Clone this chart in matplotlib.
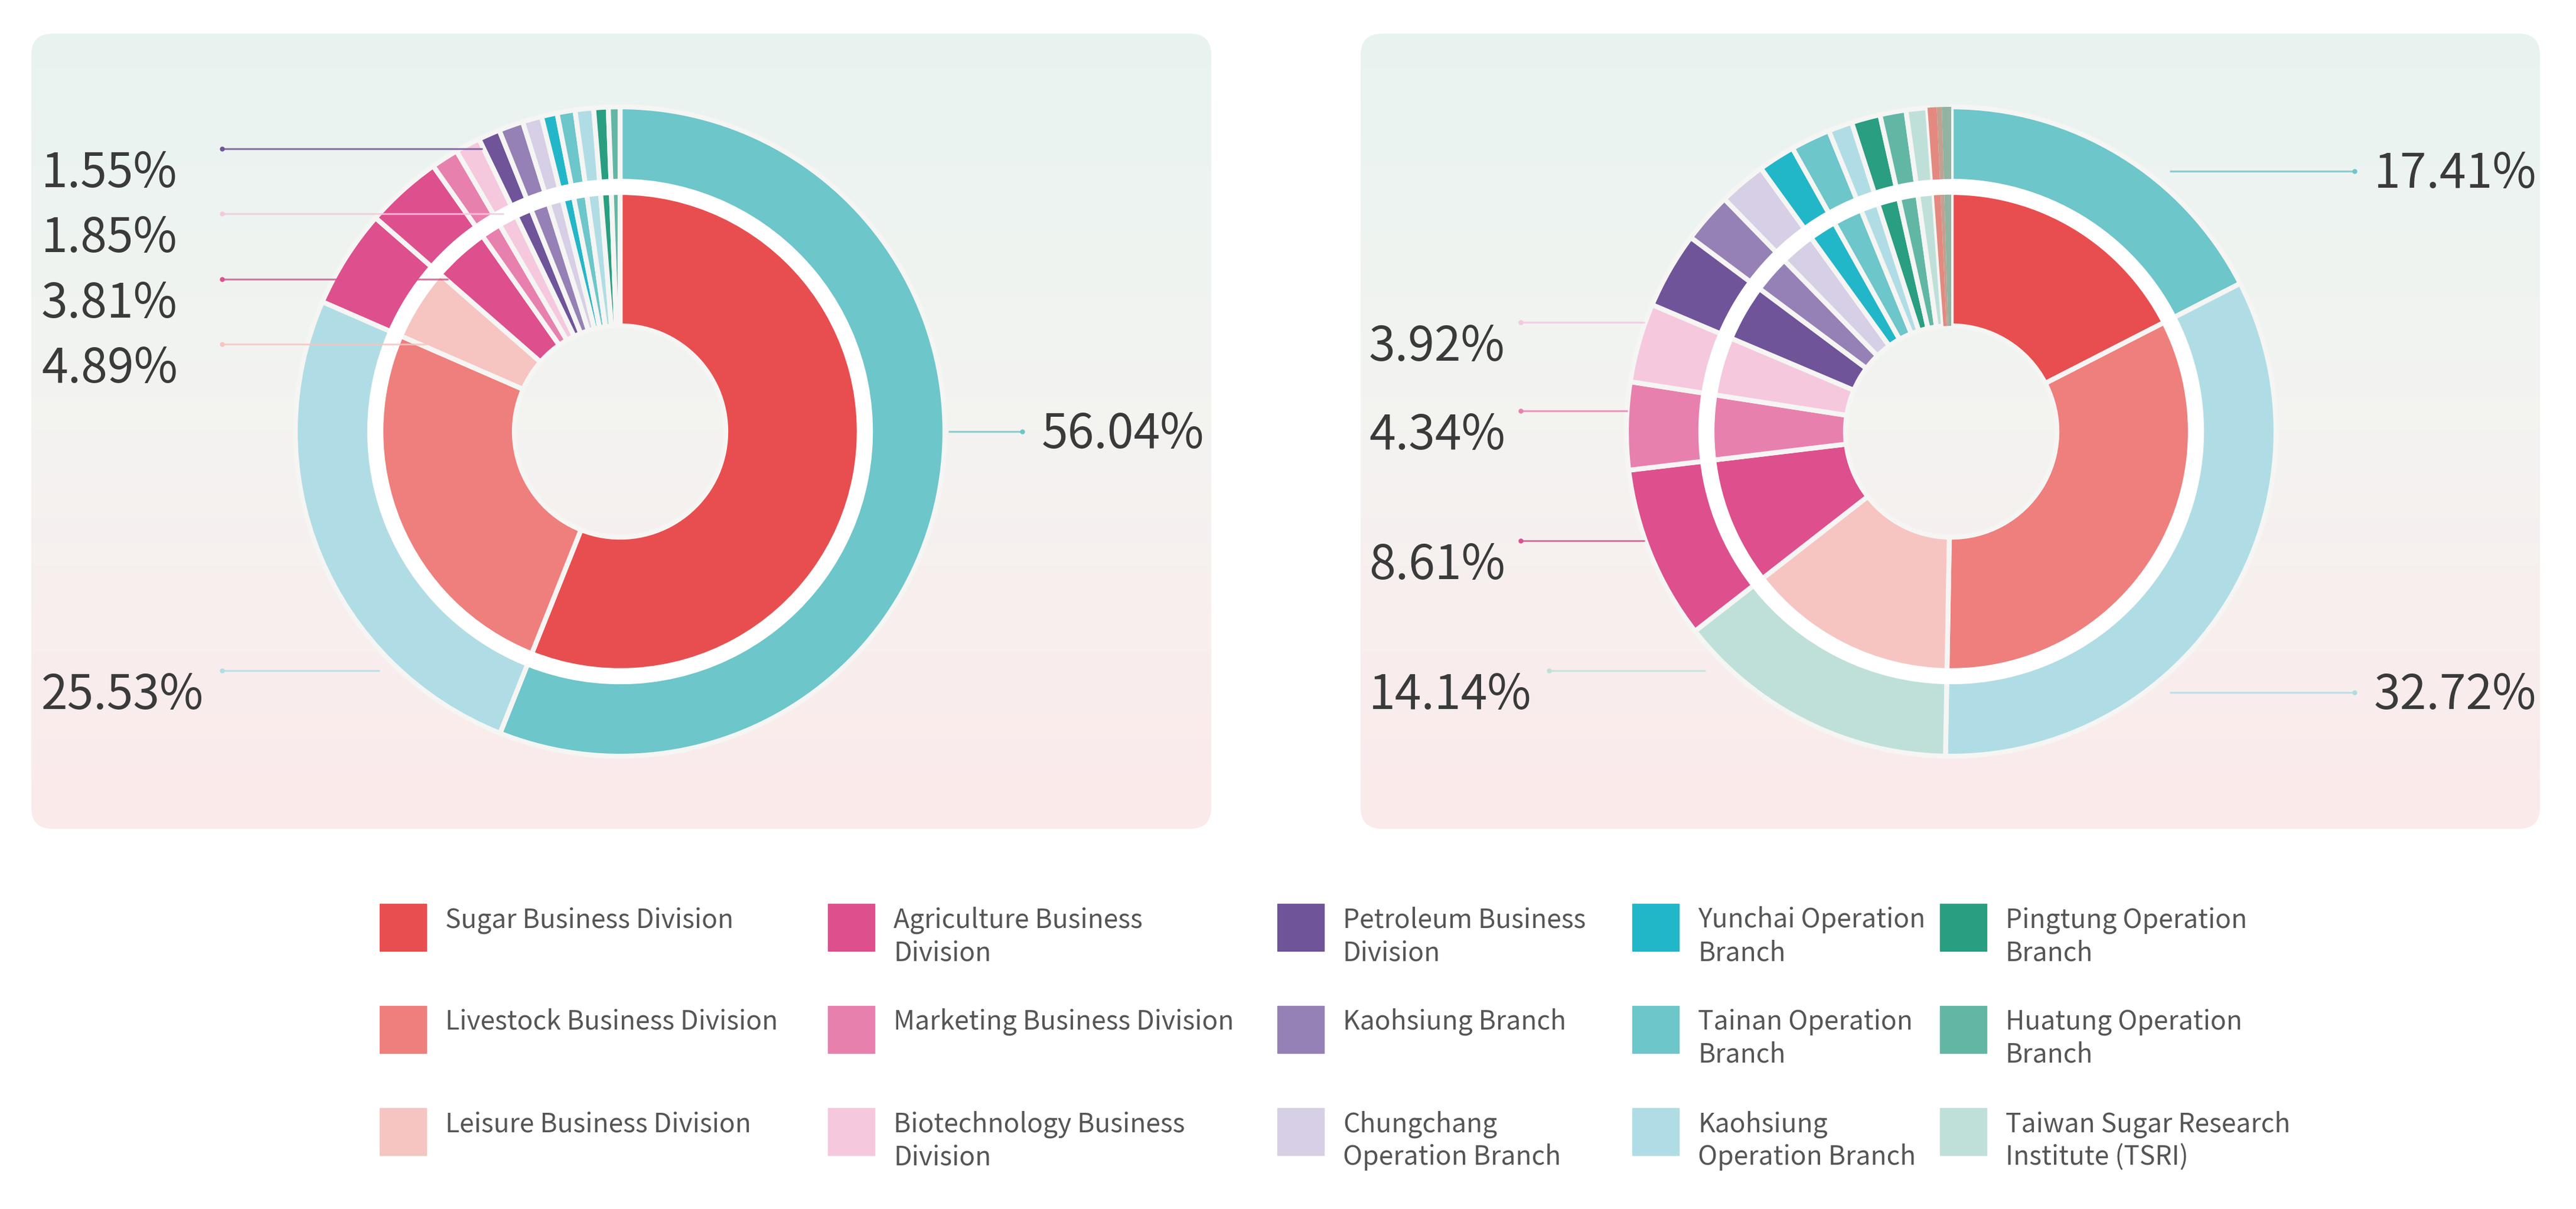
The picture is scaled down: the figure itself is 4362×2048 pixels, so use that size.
import numpy as np
import matplotlib.pyplot as plt
from matplotlib.patches import FancyBboxPatch, Rectangle, Wedge
from matplotlib.colors import LinearSegmentedColormap

plt.rcParams['font.family'] = ['Noto Sans CJK TC', 'DejaVu Sans']

W, H = 4362, 2048

# ---- data ----
categories = [
    "Sugar Business Division", "Livestock Business Division", "Leisure Business Division",
    "Agriculture Business Division", "Marketing Business Division", "Biotechnology Business Division",
    "Petroleum Business Division", "Kaohsiung Branch", "Chungchang Operation Branch",
    "Yunchai Operation Branch", "Tainan Operation Branch", "Kaohsiung Operation Branch",
    "Pingtung Operation Branch", "Huatung Operation Branch", "Taiwan Sugar Research Institute (TSRI)",
]
legend_text = [
    "Sugar Business Division", "Livestock Business Division", "Leisure Business Division",
    "Agriculture Business\nDivision", "Marketing Business Division", "Biotechnology Business\nDivision",
    "Petroleum Business\nDivision", "Kaohsiung Branch", "Chungchang\nOperation Branch",
    "Yunchai Operation\nBranch", "Tainan Operation\nBranch", "Kaohsiung\nOperation Branch",
    "Pingtung Operation\nBranch", "Huatung Operation\nBranch", "Taiwan Sugar Research\nInstitute (TSRI)",
]
cat_colors = [
    "#E84E4F", "#EE7F7D", "#F6C5C1",
    "#DE4F8D", "#E880AE", "#F5C8DE",
    "#6F5499", "#9581B5", "#D6CFE5",
    "#22B7C8", "#6CC6CA", "#B0DDE5",
    "#299E80", "#61B7A4", "#BFE0D9",
]

# share of each category (%), same order as categories
left_values = [56.04, 25.53, 4.89, 3.81, 1.36, 1.25, 1.08, 1.22, 0.96, 0.78, 0.89, 0.92, 0.72, 0.58, 0.0]
right_values = [17.41, 32.72, 14.14, 8.61, 4.34, 3.92, 3.80, 2.50, 2.33, 1.83, 1.97, 1.19, 1.43, 1.29, 1.06]
right_tail_values = [0.45, 0.25, 0.46]
right_tail_colors = ["#E3897F", "#C4A090", "#90B4A1"]

# outer ring colour for each slice (category index)
left_outer_idx = [10, 11, 3, 3, 4, 5, 6, 7, 8, 9, 10, 11, 12, 13, 14]
right_outer_idx = [10, 11, 14, 3, 4, 5, 6, 7, 8, 9, 10, 11, 12, 13, 14]

left_labels = ["56.04%", "25.53%", "4.89%", "3.81%", "1.85%", "1.55%"]
left_label_cat = [10, 11, 2, 3, 5, 6]
right_labels = ["17.41%", "32.72%", "14.14%", "8.61%", "4.34%", "3.92%"]
right_label_cat = [10, 11, 14, 3, 4, 5]

# ---- layout (pixels, y from top) ----
centers = [(1050, 731), (3304, 731)]
R_OUT, R_BAND_OUT, R_BAND_IN, R_HOLE = 550, 424, 405, 179
panels = [(53, 57, 1998, 1347), (2304, 57, 1997, 1347)]
GAP = "#F5F5F3"

# side, line y, line x0, line x1
left_label_pos = [("r", 731, 1606, 1731), ("l", 1136, 376, 643), ("l", 583, 376, 723),
                  ("l", 473, 376, 759), ("l", 362, 376, 853), ("l", 252, 376, 817)]
right_label_pos = [("r", 290, 3674, 3987), ("r", 1173, 3674, 3987), ("l", 1136, 2623, 2888),
                   ("l", 916, 2575, 2785), ("l", 696, 2575, 2756), ("l", 546, 2575, 2785)]
label_text_x = [(70, 1764), (2318, 4020)]

leg_x = [643, 1402, 2163, 2764, 3285]
leg_y = [1531, 1704, 1877]


def Y(y):
    return H - y


fig = plt.figure(figsize=(W / 100, H / 100), dpi=100)
ax = fig.add_axes([0, 0, 1, 1])

# panel backgrounds with soft vertical gradient
bg_cmap = LinearSegmentedColormap.from_list("bg", ["#E8F3F0", "#F4F3F1", "#FBEAEA"])
grad = np.linspace(0, 1, 256)[:, None]
for (x, y, w, h) in panels:
    box = FancyBboxPatch((x, Y(y + h)), w, h, boxstyle="round,pad=0,rounding_size=36",
                         fc="none", ec="none")
    ax.add_patch(box)
    im = ax.imshow(grad, extent=(x, x + w, Y(y + h), Y(y)), origin="upper",
                   cmap=bg_cmap, aspect="auto", zorder=0)
    im.set_clip_path(box)


def donut(center, values, outer_cols, tail_vals=(), tail_cols=()):
    cx, cy = center
    keep = [i for i, v in enumerate(values) if v > 0]
    vals = [values[i] for i in keep] + list(tail_vals)
    inner_cols = [cat_colors[i] for i in keep] + list(tail_cols)
    o_cols = [cat_colors[outer_cols[i]] for i in keep] + list(tail_cols)
    n_tail = len(tail_vals)
    for radius, width, cols in [(R_OUT, R_OUT - R_BAND_OUT, o_cols),
                                (R_BAND_IN, R_BAND_IN - R_HOLE, inner_cols)]:
        wedges, _ = ax.pie(vals, colors=cols, radius=radius, center=(cx, Y(cy)),
                           startangle=90, counterclock=False,
                           wedgeprops=dict(width=width, edgecolor=GAP, linewidth=6))
        for wdg in wedges[len(wedges) - n_tail:]:
            wdg.set_linewidth(0)
    # white band between the two rings
    ax.add_patch(Wedge((cx, Y(cy)), R_BAND_OUT + 3, 0, 360,
                       width=R_BAND_OUT - R_BAND_IN + 6, color="white", zorder=3))


donut(centers[0], left_values, left_outer_idx)
donut(centers[1], right_values, right_outer_idx, right_tail_values, right_tail_colors)


def percent_labels(texts, cats, pos, text_x):
    for t, c, (side, ly, x0, x1) in zip(texts, cats, pos):
        col = cat_colors[c]
        ax.plot([x0, x1], [Y(ly), Y(ly)], color=col, lw=2.3, alpha=0.8,
                solid_capstyle="butt", zorder=4)
        ax.plot(x0 if side == "l" else x1, Y(ly), "o", ms=5, color=col, zorder=5)
        if side == "l":
            ax.text(text_x[0], Y(ly + 65), t, fontsize=58, color="#3a3a3a",
                    ha="left", va="baseline", zorder=6)
        else:
            ax.text(text_x[1], Y(ly + 28), t, fontsize=58, color="#3a3a3a",
                    ha="left", va="baseline", zorder=6)


percent_labels(left_labels, left_label_cat, left_label_pos, label_text_x[0])
percent_labels(right_labels, right_label_cat, right_label_pos, label_text_x[1])

# legend: 5 columns x 3 rows
for i, name in enumerate(legend_text):
    col, row = divmod(i, 3)
    x, y = leg_x[col], leg_y[row]
    ax.add_patch(Rectangle((x, Y(y + 80)), 79, 80, color=cat_colors[i], zorder=2))
    for j, line in enumerate(name.split("\n")):
        ax.text(x + 111, Y(y + 40 + j * 56), line, fontsize=32, color="#555555",
                ha="left", va="baseline")

ax.set_xlim(0, W)
ax.set_ylim(0, H)
ax.set_aspect("auto")
ax.axis("off")

fig.savefig("out.png", dpi=100, facecolor="white")
